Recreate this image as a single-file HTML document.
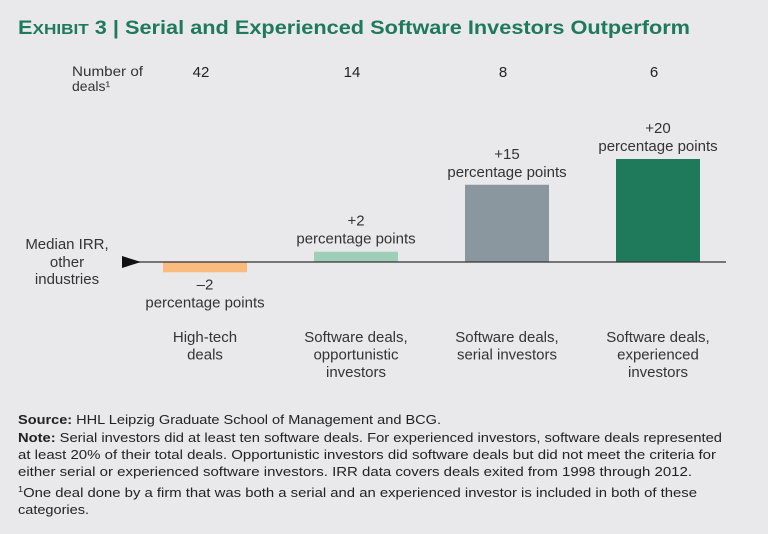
<!DOCTYPE html>
<html><head><meta charset="utf-8"><style>
body{margin:0;background:#e9e9eb;}
svg{display:block;font-family:"Liberation Sans",sans-serif;}
</style></head><body>
<svg width="768" height="534" viewBox="0 0 768 534">
<rect width="768" height="534" fill="#e9e9eb"/>
<text x="18" y="34" fill="#1e7a5a" font-weight="bold" font-size="19" textLength="672" lengthAdjust="spacingAndGlyphs"><tspan font-size="19">E</tspan><tspan font-size="15">XHIBIT</tspan> 3 | Serial and Experienced Software Investors Outperform</text>
<text x="72" y="76" font-size="14" fill="#333" textLength="71" lengthAdjust="spacingAndGlyphs">Number of</text>
<text x="72" y="91" font-size="14" fill="#333">deals¹</text>
<g id="deals"></g>
<g id="bars"></g>
<line x1="130" y1="262" x2="726" y2="262" stroke="#333" stroke-width="1.2"/>
<polygon points="122,256 141,262 122,268" fill="#111"/>
<g font-size="15" fill="#333" text-anchor="middle">
<text x="67" y="249">Median IRR,</text><text x="67" y="267">other</text><text x="67" y="284">industries</text></g>
<g id="cats"></g>
<g font-size="13" fill="#222" lengthAdjust="spacingAndGlyphs">
<text x="18" y="424" textLength="423" lengthAdjust="spacingAndGlyphs"><tspan font-weight="bold">Source:</tspan> HHL Leipzig Graduate School of Management and BCG.</text>
<text x="18" y="442" textLength="704" lengthAdjust="spacingAndGlyphs"><tspan font-weight="bold">Note:</tspan> Serial investors did at least ten software deals. For experienced investors, software deals represented</text>
<text x="18" y="459" textLength="698" lengthAdjust="spacingAndGlyphs">at least 20% of their total deals. Opportunistic investors did software deals but did not meet the criteria for</text>
<text x="18" y="476" textLength="674" lengthAdjust="spacingAndGlyphs">either serial or experienced software investors. IRR data covers deals exited from 1998 through 2012.</text>
<text x="18" y="497" textLength="679" lengthAdjust="spacingAndGlyphs"><tspan font-size="8" dy="-5">1</tspan><tspan dy="5">One deal done by a firm that was both a serial and an experienced investor is included in both of these</tspan></text>
<text x="18" y="514" textLength="71" lengthAdjust="spacingAndGlyphs">categories.</text>
</g>
</svg>
<script>
const categories=[["High-tech","deals"],["Software deals,","opportunistic","investors"],["Software deals,","serial investors"],["Software deals,","experienced","investors"]];
const values=[-2,2,15,20];
const valueLabels=["\u20132","+2","+15","+20"];
const dealCounts=[42,14,8,6];
const colors=["#f9bc7e","#9fcfb9","#8b979f","#1f7a5b"];
const NS="http://www.w3.org/2000/svg";
const x0=205,step=151,bw=84,base=262,k=5.15;
const xc=i=>x0+i*step, y=v=>base-v*k;
function mk(tag,attrs,parent,txt){const e=document.createElementNS(NS,tag);for(const a in attrs)e.setAttribute(a,attrs[a]);if(txt!==undefined)e.textContent=txt;parent.appendChild(e);return e;}
const bars=document.getElementById('bars'),deals=document.getElementById('deals'),cats=document.getElementById('cats');
values.forEach((v,i)=>{
 const top=Math.min(y(v),base),h=Math.abs(y(v)-base);
 const r=mk('rect',{x:xc(i)-bw/2,y:top,width:bw,height:h,fill:colors[i]},bars);
 
 
 const t1y=v>=0?y(v)-26:y(v)+17;
 const a=mk('text',{x:xc(i),y:t1y,'font-size':15,fill:'#333','text-anchor':'middle'},bars,valueLabels[i]);
 
 
 const b=mk('text',{x:xc(i),y:t1y+18,'font-size':15,fill:'#333','text-anchor':'middle'},bars,'percentage points');
 
 
 const d=mk('text',{x:xc(i)-4,y:77,'font-size':15,fill:'#222','text-anchor':'middle'},deals,String(dealCounts[i]));
 
 
 categories[i].forEach((ln,j)=>{
  const c=mk('text',{x:xc(i),y:342+j*17.5,'font-size':15,fill:'#333','text-anchor':'middle'},cats,ln);
  
  
 });
});
</script>
</body></html>
